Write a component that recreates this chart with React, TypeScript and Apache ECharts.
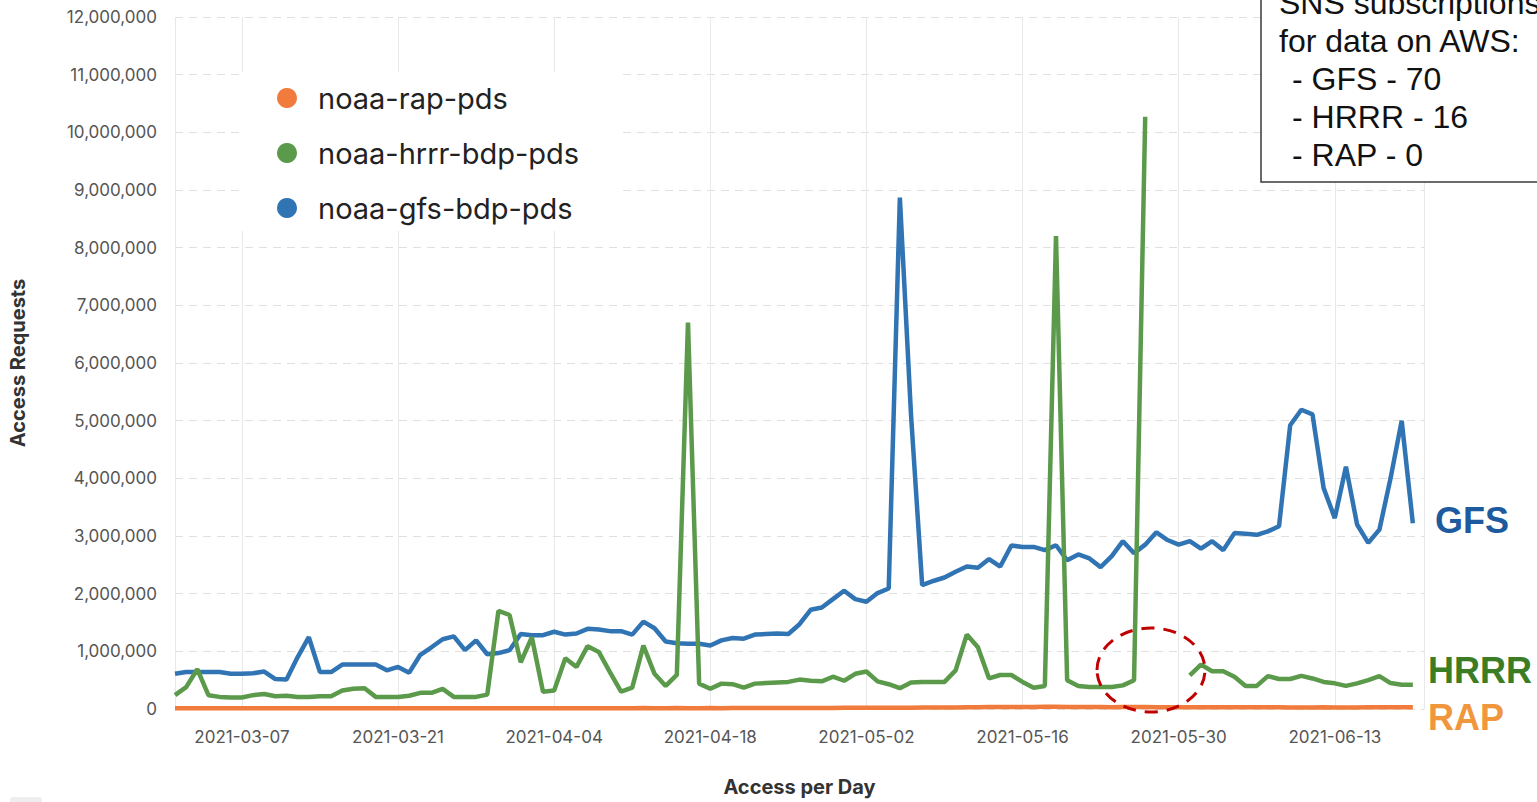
import React, { useEffect, useRef } from "react";
import * as echarts from "echarts";

const categories = [
  "2021-03-01","2021-03-02","2021-03-03","2021-03-04","2021-03-05","2021-03-06","2021-03-07","2021-03-08","2021-03-09","2021-03-10",
  "2021-03-11","2021-03-12","2021-03-13","2021-03-14","2021-03-15","2021-03-16","2021-03-17","2021-03-18","2021-03-19","2021-03-20",
  "2021-03-21","2021-03-22","2021-03-23","2021-03-24","2021-03-25","2021-03-26","2021-03-27","2021-03-28","2021-03-29","2021-03-30",
  "2021-03-31","2021-04-01","2021-04-02","2021-04-03","2021-04-04","2021-04-05","2021-04-06","2021-04-07","2021-04-08","2021-04-09",
  "2021-04-10","2021-04-11","2021-04-12","2021-04-13","2021-04-14","2021-04-15","2021-04-16","2021-04-17","2021-04-18","2021-04-19",
  "2021-04-20","2021-04-21","2021-04-22","2021-04-23","2021-04-24","2021-04-25","2021-04-26","2021-04-27","2021-04-28","2021-04-29",
  "2021-04-30","2021-05-01","2021-05-02","2021-05-03","2021-05-04","2021-05-05","2021-05-06","2021-05-07","2021-05-08","2021-05-09",
  "2021-05-10","2021-05-11","2021-05-12","2021-05-13","2021-05-14","2021-05-15","2021-05-16","2021-05-17","2021-05-18","2021-05-19",
  "2021-05-20","2021-05-21","2021-05-22","2021-05-23","2021-05-24","2021-05-25","2021-05-26","2021-05-27","2021-05-28","2021-05-29",
  "2021-05-30","2021-05-31","2021-06-01","2021-06-02","2021-06-03","2021-06-04","2021-06-05","2021-06-06","2021-06-07","2021-06-08",
  "2021-06-09","2021-06-10","2021-06-11","2021-06-12","2021-06-13","2021-06-14","2021-06-15","2021-06-16","2021-06-17","2021-06-18",
  "2021-06-19","2021-06-20","2021-06-21",
];

const gfsValues = [
  610000, 640000, 640000, 640000, 640000, 610000, 610000, 620000, 650000, 520000,
  510000, 900000, 1245000, 640000, 640000, 770000, 770000, 770000, 770000, 670000,
  730000, 630000, 940000, 1070000, 1210000, 1260000, 1020000, 1190000, 950000, 970000,
  1020000, 1300000, 1280000, 1280000, 1340000, 1290000, 1310000, 1390000, 1380000, 1350000,
  1350000, 1290000, 1515000, 1400000, 1170000, 1140000, 1130000, 1130000, 1100000, 1190000,
  1230000, 1220000, 1290000, 1300000, 1310000, 1300000, 1470000, 1720000, 1760000, 1905000,
  2050000, 1905000, 1860000, 2010000, 2090000, 8870000, 5100000, 2150000, 2220000, 2280000,
  2380000, 2470000, 2450000, 2600000, 2470000, 2835000, 2810000, 2810000, 2755000, 2840000,
  2580000, 2680000, 2610000, 2460000, 2650000, 2910000, 2700000, 2850000, 3065000, 2930000,
  2850000, 2910000, 2780000, 2910000, 2755000, 3050000, 3040000, 3020000, 3080000, 3170000,
  4920000, 5190000, 5110000, 3830000, 3310000, 4200000, 3200000, 2880000, 3110000, 4000000,
  5000000, 3220000,
];

const hrrrValues = [
  240000, 380000, 690000, 240000, 210000, 200000, 200000, 240000, 260000, 220000,
  230000, 210000, 210000, 220000, 220000, 320000, 350000, 360000, 210000, 210000,
  210000, 230000, 280000, 280000, 350000, 210000, 210000, 210000, 250000, 1700000,
  1630000, 810000, 1245000, 300000, 320000, 880000, 730000, 1090000, 990000, 640000,
  300000, 370000, 1100000, 610000, 400000, 590000, 6700000, 440000, 350000, 440000,
  430000, 370000, 440000, 450000, 460000, 470000, 510000, 490000, 480000, 560000,
  490000, 610000, 650000, 480000, 430000, 360000, 460000, 470000, 470000, 470000,
  670000, 1290000, 1070000, 530000, 590000, 590000, 470000, 370000, 400000, 8200000,
  500000, 400000, 380000, 380000, 380000, 410000, 500000, 10270000, null, null,
  null, 585000, 770000, 655000, 655000, 560000, 400000, 400000, 570000, 520000,
  520000, 575000, 530000, 470000, 445000, 400000, 445000, 500000, 570000, 450000,
  420000, 420000,
];

const rapValues = [
  12000, 12000, 13000, 12000, 12000, 13000, 12000, 12000, 13000, 12000,
  12000, 13000, 12000, 12000, 13000, 12000, 12000, 13000, 12000, 12000,
  13000, 12000, 12000, 13000, 12000, 12000, 13000, 12000, 12000, 13000,
  14000, 14000, 15000, 14000, 14000, 15000, 14000, 14000, 15000, 14000,
  15000, 15000, 16000, 15000, 15000, 16000, 15000, 15000, 16000, 15000,
  16000, 17000, 16000, 17000, 18000, 17000, 18000, 19000, 18000, 19000,
  20000, 21000, 20000, 22000, 21000, 22000, 23000, 24000, 25000, 26000,
  28000, 30000, 32000, 34000, 33000, 35000, 36000, 35000, 37000, 38000,
  36000, 35000, 34000, 33000, 32000, 33000, 34000, 33000, 32000, 31000,
  30000, 31000, 32000, 31000, 30000, 29000, 30000, 31000, 30000, 29000,
  28000, 27000, 28000, 29000, 28000, 27000, 28000, 29000, 30000, 31000,
  32000, 32000,
];

const seriesNames = ["noaa-rap-pds", "noaa-hrrr-bdp-pds", "noaa-gfs-bdp-pds"];
const seriesColors = ["#f07b3d", "#5b9a4b", "#3074b4"];

const noteLines = ["SNS subscriptions", "for data on AWS:", "- GFS - 70", "- HRRR - 16", "- RAP - 0"];
const sideLabels = [
  { text: "GFS", color: "#1d5a9e", y: 520, x: 1435 },
  { text: "HRRR", color: "#3b7d25", y: 670, x: 1428 },
  { text: "RAP", color: "#f0963c", y: 717, x: 1428 },
];

const Y_MAX = 12000000;
const Y_STEP = 1000000;
const LABEL_EVERY = 14;
const LABEL_OFFSET = 6;

const FONT = "Inter, 'Noto Sans', sans-serif";
const fmt = (v: number) => String(v).replace(/\B(?=(\d{3})+(?!\d))/g, ",");

export default function App() {
  const ref = useRef<HTMLDivElement>(null);

  useEffect(() => {
    if (!ref.current) return;
    const chart = echarts.init(ref.current, null, { renderer: "svg" });
    const last = categories.length - 1;

    const lineSeries = (name: string, data: (number | null)[], color: string) => ({
      name,
      type: "line",
      data,
      symbol: "none",
      showSymbol: false,
      connectNulls: false,
      lineStyle: { width: 4.5, color },
      itemStyle: { color },
    });

    chart.setOption({
      animation: false,
      backgroundColor: "#ffffff",
      grid: { left: 175, right: 113, top: 17, bottom: 85, containLabel: false },
      legend: {
        orient: "vertical",
        left: 240,
        top: 72,
        data: seriesNames.map((n) => ({ name: n, icon: "circle" })),
        itemWidth: 20,
        itemHeight: 20,
        itemGap: 25,
        backgroundColor: "#ffffff",
        padding: [11, 40, 8, 37],
        textStyle: { fontFamily: FONT, fontSize: 29, color: "#222", lineHeight: 30, padding: [0, 0, 0, 16] },
      },
      xAxis: {
        type: "category",
        data: categories,
        boundaryGap: false,
        axisLine: { show: false },
        axisTick: { show: false },
        axisLabel: {
          interval: (i: number) => i % LABEL_EVERY === LABEL_OFFSET,
          fontFamily: FONT,
          fontSize: 17,
          color: "#555",
          margin: 19,
        },
        splitLine: {
          show: true,
          interval: (i: number) => i % LABEL_EVERY === LABEL_OFFSET || i === 0 || i === last,
          lineStyle: { color: "#e8e8e8", width: 1 },
        },
        name: "Access per Day",
        nameLocation: "middle",
        nameGap: 68,
        nameTextStyle: { fontFamily: FONT, fontWeight: "bold", fontSize: 20, color: "#333" },
      },
      yAxis: {
        type: "value",
        min: 0,
        max: Y_MAX,
        interval: Y_STEP,
        axisLine: { show: false },
        axisTick: { show: false },
        axisLabel: { formatter: fmt, fontFamily: FONT, fontSize: 17, color: "#555", margin: 18 },
        splitLine: { lineStyle: { type: [8, 6], color: "#e0e0e0", width: 1 } },
        name: "Access Requests",
        nameLocation: "middle",
        nameGap: 147,
        nameTextStyle: { fontFamily: FONT, fontWeight: "bold", fontSize: 20, color: "#333" },
      },
      series: [
        lineSeries(seriesNames[2], gfsValues, seriesColors[2]),
        lineSeries(seriesNames[1], hrrrValues, seriesColors[1]),
        lineSeries(seriesNames[0], rapValues, seriesColors[0]),
      ],
      graphic: [
        {
          type: "rect",
          shape: { x: 1261, y: -20, width: 300, height: 202 },
          style: { fill: "#ffffff", stroke: "#3a3a3a", lineWidth: 1.5 },
          z: 10,
        },
        ...noteLines.map((t, i) => ({
          type: "text",
          x: i < 2 ? 1279 : 1292,
          y: 3 + i * 38,
          z: 11,
          style: {
            text: t,
            fill: "#111",
            font: "32px 'Liberation Sans', Arial, sans-serif",
            textVerticalAlign: "middle",
            verticalAlign: "middle",
          },
        })),
        ...sideLabels.map((s) => ({
          type: "text",
          x: s.x,
          y: s.y,
          z: 11,
          style: {
            text: s.text,
            fill: s.color,
            font: "bold 36px 'Liberation Sans', Arial, sans-serif",
            verticalAlign: "middle",
            textVerticalAlign: "middle",
          },
        })),
        {
          type: "ellipse",
          shape: { cx: 1151, cy: 670, rx: 54, ry: 42 },
          style: { fill: "none", stroke: "#c00000", lineWidth: 3, lineDash: [13, 9] },
          z: 12,
        },
        {
          type: "rect",
          shape: { x: 10, y: 797, width: 32, height: 10, r: 3 },
          style: { fill: "#eeeeee" },
        },
      ],
    });

    return () => chart.dispose();
  }, []);

  return (
    <div
      ref={ref}
      style={{ position: "fixed", left: 0, top: 0, width: 1537, height: 802, background: "#fff" }}
    />
  );
}
